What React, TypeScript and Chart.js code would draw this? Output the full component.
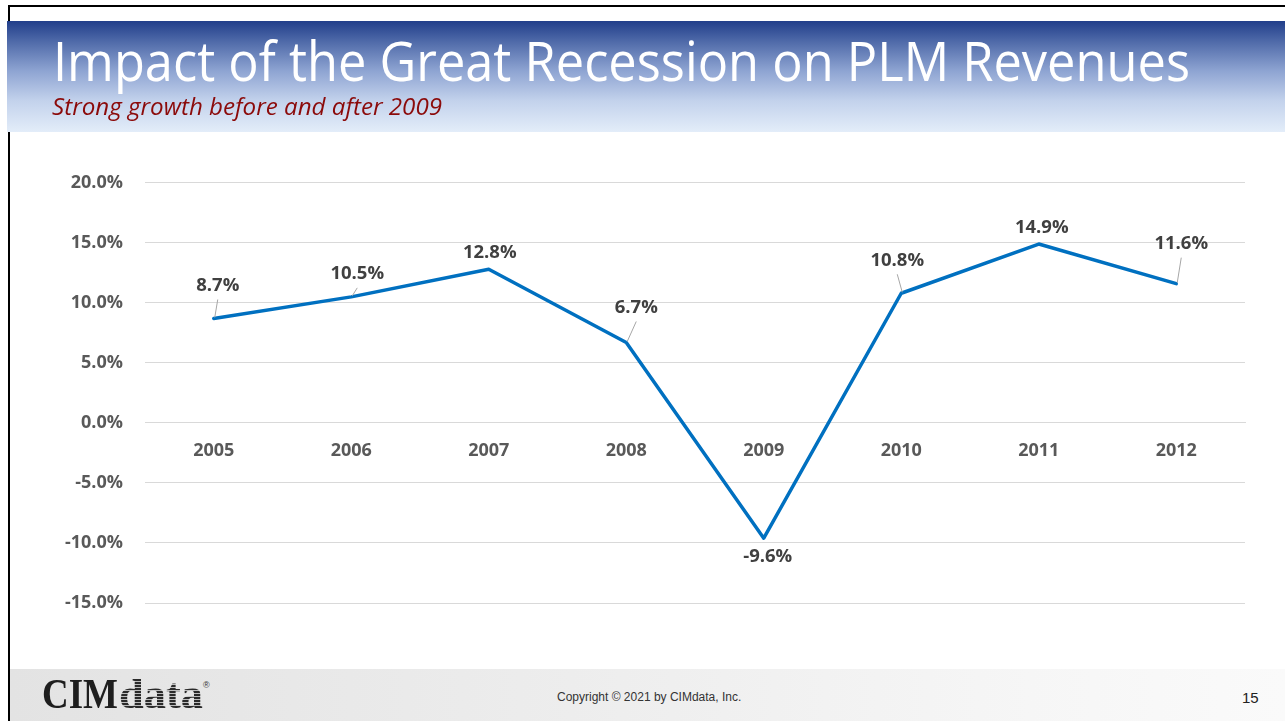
import React, { useEffect, useRef } from 'react';
import { Chart, registerables } from 'chart.js';

Chart.register(...registerables);

const categories = ['2005', '2006', '2007', '2008', '2009', '2010', '2011', '2012'];
const growth = [8.7, 10.5, 12.8, 6.7, -9.6, 10.8, 14.9, 11.6];
const yTickValues = [-15, -10, -5, 0, 5, 10, 15, 20];
const titleText = 'Impact of the Great Recession on PLM Revenues';
const subtitleText = 'Strong growth before and after 2009';
const copyrightText = 'Copyright © 2021 by CIMdata, Inc.';
const pageNumber = '15';

// label placement relative to each point (style, not data)
const labelOffsets: [number, number][] = [
  [4, -33], [6, -23], [1, -17], [10, -35], [4, 19], [-4, -33], [3, -16], [5, -40],
];

const LABEL_FONT = 'bold 18.5px "Open Sans"';

const dataLabelPlugin = {
  id: 'dataLabels',
  afterDatasetsDraw(chart: any) {
    const ctx = chart.ctx;
    const meta = chart.getDatasetMeta(0);
    ctx.save();
    meta.data.forEach((pt: any, i: number) => {
      const [dx, dy] = labelOffsets[i];
      const lx = pt.x + dx;
      const ly = pt.y + dy;
      if (dy < -20) {
        ctx.strokeStyle = '#a6a6a6';
        ctx.lineWidth = 1;
        ctx.beginPath();
        ctx.moveTo(lx, ly + 14);
        ctx.lineTo(pt.x + 1, pt.y - 1);
        ctx.stroke();
      }
      ctx.font = LABEL_FONT;
      ctx.fillStyle = '#404040';
      ctx.textAlign = 'center';
      ctx.textBaseline = 'middle';
      ctx.fillText(growth[i].toFixed(1) + '%', lx, ly);
    });
    ctx.restore();
  },
};

function FitText({ text, width, style }: { text: string; width: number; style: React.CSSProperties }) {
  const ref = useRef<HTMLSpanElement>(null);
  useEffect(() => {
    const el = ref.current;
    if (!el) return;
    el.style.transform = 'none';
    const w = el.getBoundingClientRect().width;
    if (w > 0) el.style.transform = `scaleX(${width / w})`;
  }, [text, width]);
  return (
    <span
      ref={ref}
      style={{ position: 'absolute', whiteSpace: 'nowrap', transformOrigin: 'left top', ...style }}
    >
      {text}
    </span>
  );
}

export default function App() {
  const canvasRef = useRef<HTMLCanvasElement>(null);

  useEffect(() => {
    document.body.style.margin = '0';
    const canvas = canvasRef.current;
    if (!canvas) return;
    const chart = new Chart(canvas, {
      type: 'line',
      data: {
        labels: categories,
        datasets: [
          {
            data: growth,
            borderColor: '#0070c0',
            borderWidth: 3.5,
            borderJoinStyle: 'round',
            borderCapStyle: 'round',
            pointRadius: 0,
            tension: 0,
            fill: false,
          },
        ],
      },
      options: {
        animation: false,
        responsive: true,
        maintainAspectRatio: false,
        layout: { padding: { left: 0, right: 30, top: 32, bottom: 47 } },
        plugins: {
          legend: { display: false },
          tooltip: { enabled: false },
          title: { display: false },
        },
        scales: {
          x: {
            type: 'category',
            offset: true,
            position: { y: 0 } as any,
            grid: { display: false, drawTicks: false },
            border: { display: true, color: '#d9d9d9', width: 1 },
            ticks: {
              padding: 17,
              color: '#595959',
              font: { family: 'Open Sans', size: 18, weight: 'bold' },
              maxRotation: 0,
            },
          },
          y: {
            min: -15,
            max: 20,
            afterBuildTicks: (scale: any) => {
              scale.ticks = yTickValues.map((v) => ({ value: v }));
            },
            afterFit: (scale: any) => {
              scale.width = 135;
            },
            grid: { color: '#d9d9d9', lineWidth: 1, drawTicks: false },
            border: { display: false },
            ticks: {
              padding: 22,
              color: '#595959',
              font: { family: 'Open Sans', size: 18, weight: 'bold' },
              callback: (v: any) => Number(v).toFixed(1) + '%',
            },
          },
        },
      },
      plugins: [dataLabelPlugin],
    });
    return () => chart.destroy();
  }, []);

  return (
    <div style={{ position: 'relative', width: 1285, height: 721, overflow: 'hidden', background: '#fff' }}>
      {/* slide border */}
      <div
        style={{
          position: 'absolute',
          left: 8,
          top: 5,
          width: 1285,
          height: 730,
          borderTop: '2px solid #000',
          borderLeft: '2px solid #000',
          boxSizing: 'border-box',
        }}
      />
      {/* title banner */}
      <div
        style={{
          position: 'absolute',
          left: 7,
          top: 21,
          width: 1278,
          height: 111,
          background:
            'linear-gradient(to bottom, #213e8a 0%, #4e69a8 18%, #8ea4d2 45%, #c3d2ec 72%, #e3edf9 100%)',
        }}
      />
      <FitText
        text={titleText}
        width={1137}
        style={{
          left: 53,
          top: 32,
          fontFamily: '"Open Sans"',
          fontWeight: 400,
          fontSize: 55,
          lineHeight: '55px',
          color: '#ffffff',
        }}
      />
      <FitText
        text={subtitleText}
        width={390}
        style={{
          left: 52,
          top: 94,
          fontFamily: '"Open Sans"',
          fontStyle: 'italic',
          fontSize: 23.5,
          lineHeight: '24px',
          color: '#8b0a0a',
        }}
      />
      {/* chart */}
      <div style={{ position: 'absolute', left: 10, top: 150, width: 1265, height: 500 }}>
        <canvas ref={canvasRef} />
      </div>
      {/* footer */}
      <div
        style={{
          position: 'absolute',
          left: 10,
          top: 669,
          width: 1275,
          height: 52,
          background: 'linear-gradient(to right, #e3e3e3 0%, #ececec 40%, #f6f6f6 80%, #fafafa 100%)',
        }}
      />
      <FitText
        text="CIM"
        width={76}
        style={{
          left: 42,
          top: 673,
          fontFamily: '"Liberation Serif"',
          fontWeight: 'bold',
          fontSize: 42,
          lineHeight: '42px',
          color: '#1e1e1e',
        }}
      />
      <FitText
        text="data"
        width={84}
        style={{
          left: 119,
          top: 673,
          fontFamily: '"Liberation Serif"',
          fontWeight: 'bold',
          fontSize: 42,
          lineHeight: '42px',
          color: 'transparent',
          backgroundImage: 'repeating-linear-gradient(to bottom, #2a2a2a 0px, #2a2a2a 2px, #bdbdbd 2px, #bdbdbd 3px)',
          WebkitBackgroundClip: 'text',
          backgroundClip: 'text',
        }}
      />
      <span
        style={{
          position: 'absolute',
          left: 203,
          top: 681,
          fontFamily: '"Liberation Sans"',
          fontSize: 9,
          lineHeight: '9px',
          color: '#333',
        }}
      >
        ®
      </span>
      <span
        style={{
          position: 'absolute',
          left: 557,
          top: 690,
          fontFamily: '"Liberation Sans"',
          fontSize: 12,
          lineHeight: '15px',
          color: '#333',
          whiteSpace: 'nowrap',
        }}
      >
        {copyrightText}
      </span>
      <span
        style={{
          position: 'absolute',
          left: 1242,
          top: 689,
          fontFamily: '"Liberation Sans"',
          fontSize: 15,
          lineHeight: '17px',
          color: '#222',
        }}
      >
        {pageNumber}
      </span>
    </div>
  );
}
